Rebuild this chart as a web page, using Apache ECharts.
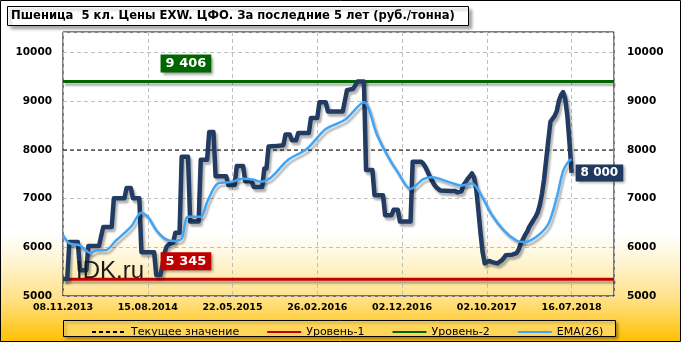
<!DOCTYPE html>
<html><head><meta charset="utf-8">
<script src="https://cdn.jsdelivr.net/npm/echarts@6/dist/echarts.min.js"></script>
<style>html,body{margin:0;padding:0;background:#fff}#c{width:681px;height:342px}</style>
</head><body><div id="c"></div>
<script>
const titleText = 'Пшеница  5 кл. Цены EXW. ЦФО. За последние 5 лет (руб./тонна)';
const tickLabels = ['08.11.2013','15.08.2014','22.05.2015','26.02.2016','02.12.2016','02.10.2017','16.07.2018'];
const weeksPerTick = 40;
const lastWeek = 260;
const legendNames = ['Текущее значение','Уровень-1','Уровень-2','EMA(26)'];
const level1 = 5345;
const level2 = 9406;
const currentValue = 8000;
const levelLabelWeek = 58;
// [week index, price]
const priceWeekly = [[0,5350],[2,5350],[3,6110],[7,6110],[8,5530],[11,5530],[12,6030],[17,6030],[18,6230],[19,6420],[23,6420],[24,7010],[29,7010],[30,7220],[32,7220],[33,7010],[36,7010],[37,5900],[43,5900],[44,5430],[46,5430],[47,5650],[48,5900],[49,6020],[50,6060],[51,6080],[52,6100],[53,6300],[55,6300],[56,7860],[59,7860],[60,6530],[64,6530],[65,7800],[68,7800],[69,8370],[71,8370],[72,7460],[77,7460],[78,7280],[81,7280],[82,7670],[85,7670],[86,7360],[89,7360],[90,7240],[94,7240],[95,7620],[96,7620],[97,8070],[100,8080],[104,8100],[105,8320],[107,8320],[108,8200],[110,8200],[111,8350],[116,8350],[117,8660],[120,8660],[121,8980],[124,8980],[125,8790],[132,8790],[134,9230],[137,9260],[139,9406],[142,9406],[143,7590],[146,7590],[147,7070],[151,7070],[152,6660],[155,6660],[156,6770],[158,6770],[159,6530],[164,6530],[165,7760],[169,7760],[170,7720],[171,7650],[172,7560],[173,7460],[174,7380],[175,7300],[176,7240],[177,7200],[178,7170],[183,7160],[185,7160],[186,7130],[188,7150],[189,7280],[190,7340],[191,7410],[192,7460],[193,7520],[194,7430],[195,7200],[196,6760],[197,6300],[198,5900],[199,5670],[201,5720],[203,5690],[205,5670],[207,5730],[208,5780],[209,5840],[212,5850],[214,5880],[215,5950],[216,6080],[217,6160],[218,6250],[219,6320],[220,6420],[221,6490],[223,6630],[224,6720],[225,6870],[226,7100],[227,7400],[228,7800],[229,8200],[230,8580],[232,8700],[233,8800],[234,9010],[235,9130],[236,9190],[237,9050],[238,8700],[239,8150],[240,7530]];
const emaWeekly = [[0,6250],[3,6080],[8,6040],[13,5880],[16,5940],[20,5940],[25,6140],[32,6420],[37,6710],[40,6630],[44,6350],[48,6180],[52,6130],[56,6180],[59,6630],[65,6630],[68,6930],[73,7310],[79,7340],[85,7410],[90,7390],[93,7350],[98,7430],[106,7790],[115,8020],[124,8430],[133,8620],[142,8980],[148,8330],[153,7890],[158,7540],[164,7200],[170,7400],[174,7440],[183,7330],[188,7270],[193,7310],[197,7100],[202,6690],[208,6350],[214,6140],[218,6110],[224,6240],[229,6480],[233,7030],[236,7570],[239,7790],[240,7800]];

const fmt = v => String(v).replace(/\B(?=(\d{3})+(?!\d))/g, ' ');
const shadow = {shadowColor:'rgba(0,0,0,0.3)', shadowBlur:2, shadowOffsetX:2, shadowOffsetY:3};
const boxLabel = (text, bg, size, pos, dist) => ({
  show:true, position:pos, distance:dist, formatter:text, color:'#fff',
  fontFamily:'DejaVu Sans', fontWeight:'bold', fontSize:size, backgroundColor:bg,
  padding:[3,5,2,5], shadowColor:'rgba(0,0,0,0.45)', shadowBlur:3, shadowOffsetX:2, shadowOffsetY:2
});
const lastPoint = priceWeekly[priceWeekly.length-1];

const chart = echarts.init(document.getElementById('c'), null, {renderer:'canvas'});
chart.setOption({
  animation:false,
  backgroundColor: new echarts.graphic.LinearGradient(0,0,0,1,[
    {offset:0,color:'#FFFFFF'},{offset:0.68,color:'#FFFFFF'},{offset:0.75,color:'#FFF7DC'},
    {offset:0.87,color:'#FFE28A'},{offset:1,color:'#FFC000'}]),
  grid:{left:63,right:67,top:32,bottom:46,show:true,borderColor:'#000',borderWidth:1,backgroundColor:'transparent'},
  xAxis:{type:'value',min:0,max:lastWeek,interval:weeksPerTick,
    axisLine:{show:false},axisTick:{show:false},
    axisLabel:{formatter:v=>tickLabels[v/weeksPerTick]||'',color:'#000',fontFamily:'DejaVu Sans',fontWeight:'bold',fontSize:9.5,margin:7,showMaxLabel:false},
    splitLine:{show:true,lineStyle:{color:'#BFBFBF',type:[4,3],width:1}}},
  yAxis:[
    {type:'value',min:5000,max:10425,interval:1000,position:'left',
     axisLine:{show:false},axisTick:{show:false},
     axisLabel:{formatter:v=>v<=10000?String(v):'',color:'#000',fontFamily:'DejaVu Sans',fontWeight:'bold',fontSize:10.5,margin:11},
     splitLine:{show:true,lineStyle:{color:'#BFBFBF',type:[4,3],width:1}}},
    {type:'value',min:5000,max:10425,interval:1000,position:'right',
     axisLine:{show:false},axisTick:{show:false},
     axisLabel:{formatter:v=>v<=10000?String(v):'',color:'#000',fontFamily:'DejaVu Sans',fontWeight:'bold',fontSize:10.5,margin:13},
     splitLine:{show:false}}
  ],
  legend:{data:legendNames,left:86,top:321.5,itemWidth:34,itemHeight:14,itemGap:27,
    itemStyle:{opacity:0},
    textStyle:{fontFamily:'DejaVu Sans',fontSize:11,color:'#000'}},
  graphic:[
    {type:'rect',shape:{x:7.5,y:6.5,width:461,height:19},style:{fill:'#fff',stroke:'#000',lineWidth:1,shadowColor:'rgba(0,0,0,0.35)',shadowBlur:3,shadowOffsetX:3,shadowOffsetY:3},silent:true},
    {type:'text',x:11,y:16,style:{text:titleText,font:'bold 11.6px "DejaVu Sans"',fill:'#000',verticalAlign:'middle'},silent:true},
    {type:'rect',shape:{x:63.5,y:320.5,width:552,height:16},style:{fill:'#FFD65A',stroke:'#000',lineWidth:1,shadowColor:'rgba(0,0,0,0.35)',shadowBlur:3,shadowOffsetX:2,shadowOffsetY:2},silent:true},
    {type:'text',x:76,y:271,z:20,style:{text:'IDK.ru',font:'24px "Liberation Sans"',fill:'#1a1a1a',verticalAlign:'middle'},silent:true},
    {type:'rect',shape:{x:0.5,y:0.5,width:680,height:341},style:{fill:'none',stroke:'#000',lineWidth:1},silent:true,z:30}
  ],
  series:[
    {name:legendNames[0],type:'line',symbol:'none',data:[[0,currentValue],[lastWeek,currentValue]],
     lineStyle:{color:'#000',width:1,type:[4,3]},itemStyle:{color:'#000'},z:3},
    {name:legendNames[1],type:'line',symbol:'none',data:[[0,level1],[lastWeek,level1]],
     lineStyle:Object.assign({color:'#C00000',width:3},shadow),itemStyle:{color:'#C00000'},z:3,
     markPoint:{symbol:'circle',symbolSize:0,data:[{coord:[levelLabelWeek,level1],label:boxLabel(fmt(level1),'#C00000',13,'top',9)}]}},
    {name:legendNames[2],type:'line',symbol:'none',data:[[0,level2],[lastWeek,level2]],
     lineStyle:Object.assign({color:'#006600',width:3},shadow),itemStyle:{color:'#006600'},z:3,
     markPoint:{symbol:'circle',symbolSize:0,data:[{coord:[levelLabelWeek,level2],label:boxLabel(fmt(level2),'#006600',13,'top',9)}]}},
    {name:'Цена',type:'line',symbol:'none',data:priceWeekly,
     lineStyle:Object.assign({color:'#213B62',width:4.5,join:'round'},shadow),itemStyle:{color:'#213B62'},z:4,
     markPoint:{symbol:'circle',symbolSize:0,data:[{coord:lastPoint,label:boxLabel(fmt(currentValue),'#1F3A5F',12,'right',4)}]}},
    {name:legendNames[3],type:'line',symbol:'none',smooth:0.3,data:emaWeekly,
     lineStyle:Object.assign({color:'#41A5F5',width:2.5},shadow),itemStyle:{color:'#41A5F5'},z:5}
  ]
});
</script></body></html>
